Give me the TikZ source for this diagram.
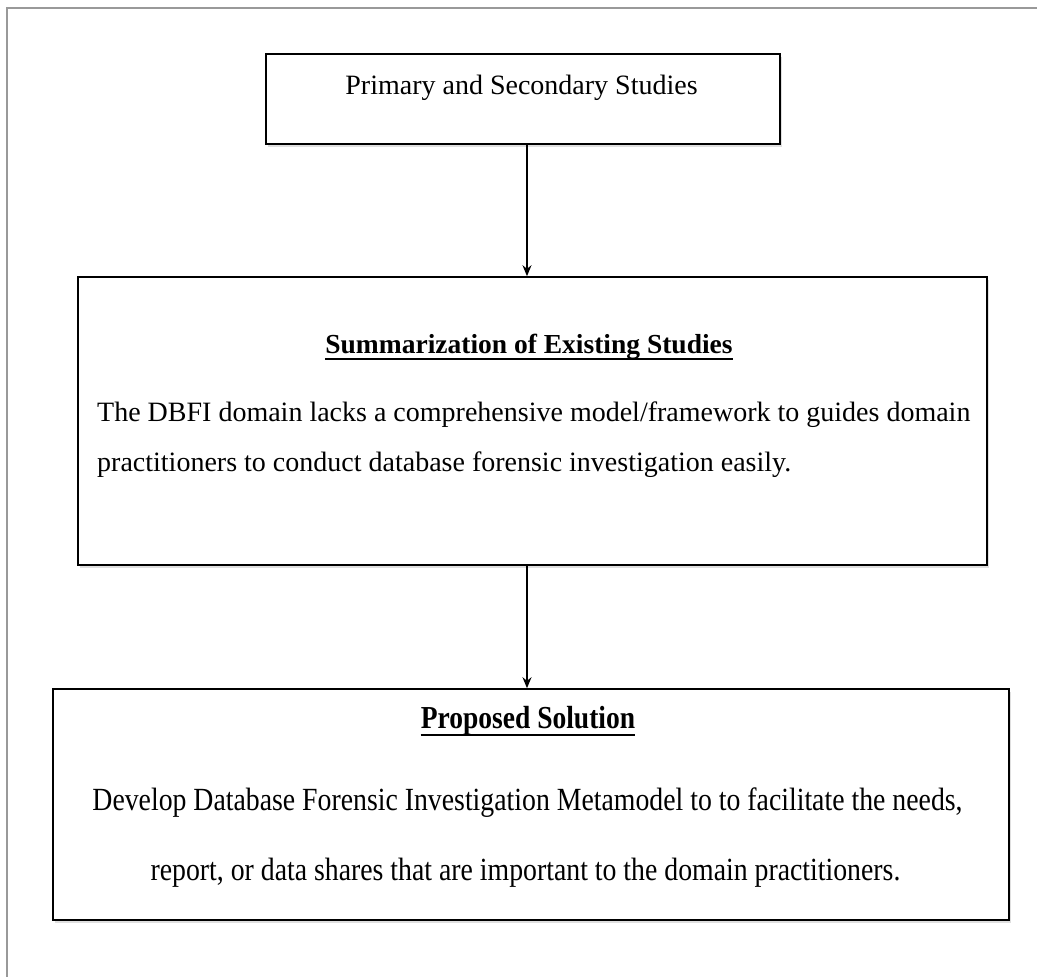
\documentclass[tikz,border=0pt]{standalone}
\usepackage{fontspec}
\setmainfont{Liberation Serif}
\newfontfamily\narrowfont{Liberation Serif}[FakeStretch=0.86]
\usetikzlibrary{arrows.meta,shadows}

\begin{document}
\begin{tikzpicture}[x=1pt,y=-1pt,
  box/.style={draw=black, line width=1.6pt, fill=white, inner sep=0pt,
    drop shadow={opacity=0.25, shadow xshift=2pt, shadow yshift=-3pt}},
  arr/.style={-{Stealth[length=11pt,width=9pt]}, line width=1.3pt},
  uline/.style={line width=2.6pt},
  txt/.style={inner sep=0pt, font=\fontsize{28}{32}\selectfont}]
\useasboundingbox (0,0) rectangle (1037,977);
\draw[black!40, line width=1.5pt] (7,977) -- (7,8) -- (1037,8);

\node[box, minimum width=514pt, minimum height=90pt] (prim) at (523,99) {};
\node[box, minimum width=909pt, minimum height=288pt] (summ) at (532.5,421) {};
\node[box, minimum width=956pt, minimum height=231pt] (prop) at (531,804.5) {};

\node[txt, anchor=base] (primtxt) at (521.5,94) {Primary and Secondary Studies};

\node[txt, anchor=base, font=\fontsize{27.5}{32}\bfseries] (summtitle) at (529,353) {Summarization of Existing Studies};
\node[txt, anchor=base west] (summline1) at (97,421) {The DBFI domain lacks a comprehensive model/framework to guides domain};
\node[txt, anchor=base west] (summline2) at (97,471) {practitioners to conduct database forensic investigation easily.};

\node[txt, anchor=base, font=\fontsize{32}{36}\narrowfont\bfseries] (proptitle) at (528,728) {Proposed Solution};
\node[txt, anchor=base, font=\fontsize{32.3}{36}\narrowfont] (propline1) at (527.5,810) {Develop Database Forensic Investigation Metamodel to to facilitate the needs,};
\node[txt, anchor=base, font=\fontsize{32.3}{36}\narrowfont] (propline2) at (525.5,880) {report, or data shares that are important to the domain practitioners.};

\draw[uline] ([yshift=-6pt]summtitle.base west) -- ([yshift=-6pt]summtitle.base east);
\draw[uline] ([yshift=-7pt]proptitle.base west) -- ([yshift=-7pt]proptitle.base east);

\coordinate (ax) at (527,0);
\draw[arr] (prim.south -| ax) -- (summ.north -| ax);
\draw[arr] (summ.south -| ax) -- (prop.north -| ax);
\end{tikzpicture}
\end{document}
